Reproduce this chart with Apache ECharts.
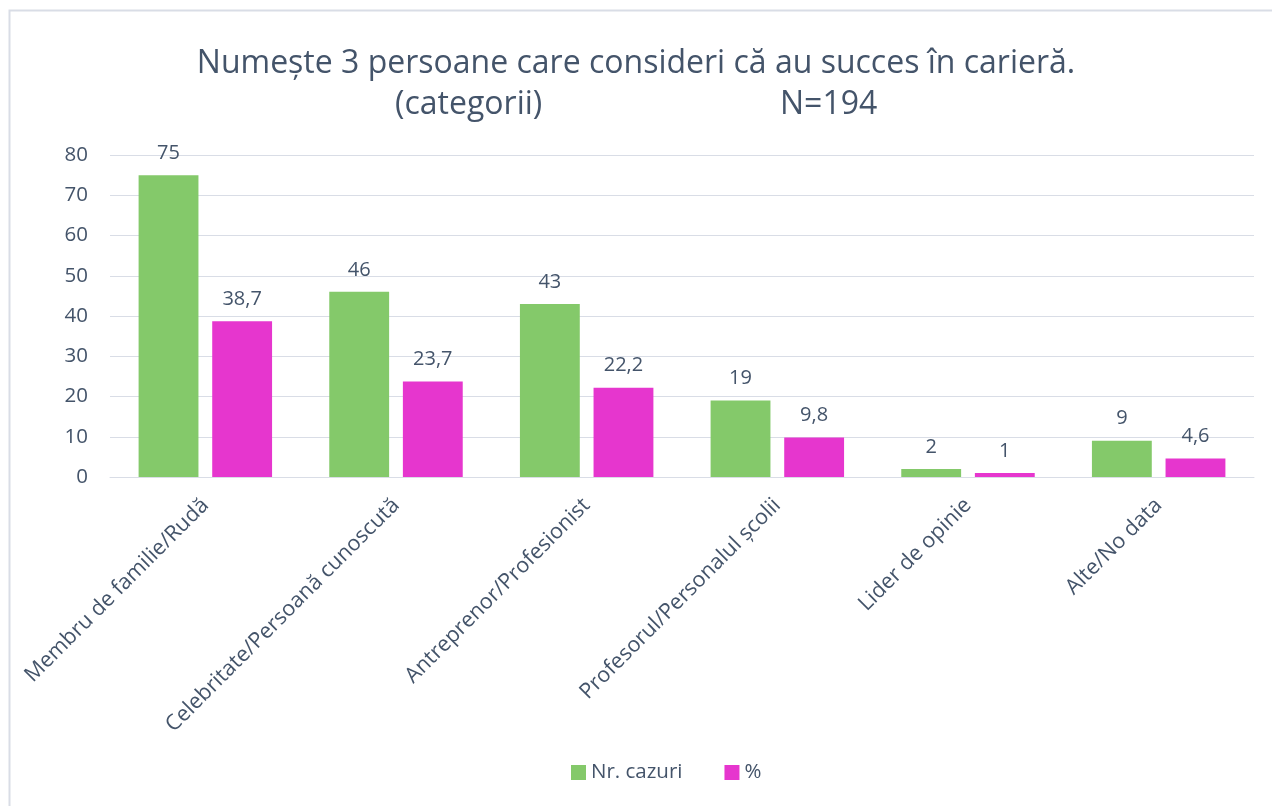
<!DOCTYPE html>
<html>
<head>
<meta charset="utf-8">
<script src="https://cdn.jsdelivr.net/npm/echarts@6/dist/echarts.min.js"></script>
<style>html,body{margin:0;padding:0;background:#fff}#c{width:1272px;height:806px}</style>
</head>
<body>
<div id="c"></div>
<script>
const categories = ["Membru de familie/Rudă","Celebritate/Persoană cunoscută","Antreprenor/Profesionist","Profesorul/Personalul școlii","Lider de opinie","Alte/No data"];
const nrCazuri = [75, 46, 43, 19, 2, 9];
const procente = [38.7, 23.7, 22.2, 9.8, 1, 4.6];
const yTicks = [0, 10, 20, 30, 40, 50, 60, 70, 80];

const txt = '#44546A';
const font = 'Open Sans';
const fmt = v => String(v).replace('.', ',');

const chart = echarts.init(document.getElementById('c'));
chart.setOption({
  animation: false,
  textStyle: { fontFamily: font },
  graphic: [{ type: 'rect', shape: { x: 9.5, y: 10.5, width: 1280, height: 820 }, style: { fill: 'none', stroke: '#D9DDE6', lineWidth: 2 }, silent: true }],
  title: [
    { text: 'Numește 3 persoane care consideri că au succes în carieră.', left: 'center', top: 43, textStyle: { fontFamily: font, fontSize: 32, fontWeight: 'normal', color: txt } },
    { text: '(categorii)', left: 390, top: 84, textStyle: { fontFamily: font, fontSize: 32, fontWeight: 'normal', color: txt } },
    { text: 'N=194', left: 775, top: 84, textStyle: { fontFamily: font, fontSize: 32, fontWeight: 'normal', color: txt } }
  ],
  legend: {
    bottom: 18, left: 566, itemWidth: 15, itemHeight: 15, itemGap: 42, icon: 'rect',
    textStyle: { fontFamily: font, fontSize: 20.5, color: txt },
    data: ['Nr. cazuri', '%']
  },
  grid: { left: 110, right: 18, top: 155, bottom: 329, containLabel: false },
  xAxis: {
    type: 'category', data: categories,
    axisLine: { lineStyle: { color: '#D9DDE6', width: 1 } },
    axisTick: { show: false },
    axisLabel: { rotate: 45, interval: 0, fontFamily: font, fontSize: 21.5, color: txt, margin: 25 }
  },
  yAxis: {
    type: 'value', min: yTicks[0], max: yTicks[yTicks.length - 1], interval: 10,
    axisLine: { show: false }, axisTick: { show: false },
    axisLabel: { fontFamily: font, fontSize: 20.5, color: txt, margin: 22 },
    splitLine: { lineStyle: { color: '#D9DDE6', width: 1 } }
  },
  series: [
    { name: 'Nr. cazuri', type: 'bar', data: nrCazuri, itemStyle: { color: '#84C96A' }, barGap: '23%', barCategoryGap: '30%',
      label: { show: true, position: 'top', distance: 12, fontFamily: font, fontSize: 20, color: txt, formatter: p => fmt(p.value) } },
    { name: '%', type: 'bar', data: procente, itemStyle: { color: '#E636CE' },
      label: { show: true, position: 'top', distance: 12, fontFamily: font, fontSize: 20, color: txt, formatter: p => fmt(p.value) } }
  ]
});
</script>
</body>
</html>
